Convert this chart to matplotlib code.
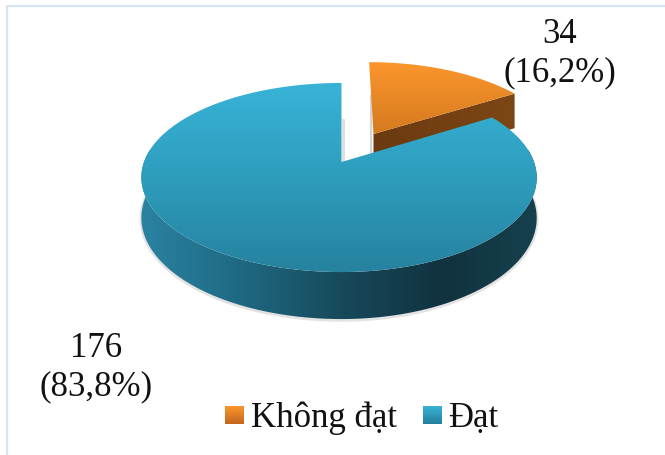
import numpy as np
import matplotlib
matplotlib.use("Agg")
import matplotlib.pyplot as plt
from matplotlib.colors import LinearSegmentedColormap
from matplotlib.patches import Polygon

labels = ["Không đạt", "Đạt"]
values = [34, 176]

plt.rcParams["font.family"] = ["Liberation Serif", "DejaVu Serif"]

# picture geometry of the tilted pie, in pixels
cx, cy = 341.5, 162
R, B, P, D = 195, 92, 0.164, 39.3
orange_shift = (0.175, 0.32)


def project(u, v, drop=0.0):
    k = 1 + P * v
    return cx + R * u / k - 2.5 * np.abs(u), cy - B * v / k + drop * D / k


def sector(start, end, shift=(0, 0), drop=0.0, n=200):
    # angles clockwise from the top
    t = np.radians(np.linspace(start, end, n))
    return project(np.sin(t) + shift[0], np.cos(t) + shift[1], drop)


def gradient(ax, poly, stops, box, vertical=True):
    ax.add_patch(poly)
    poly.set_facecolor("none")
    poly.set_edgecolor("none")
    cmap = LinearSegmentedColormap.from_list("g", stops)
    g = np.linspace(0, 1, 256)
    g = g.reshape(-1, 1) if vertical else g.reshape(1, -1)
    im = ax.imshow(g, cmap=cmap, vmin=0, vmax=1, extent=box, origin="upper",
                   aspect="auto", interpolation="bilinear", zorder=poly.get_zorder())
    im.set_clip_path(poly)


fig = plt.figure(figsize=(6.65, 4.55), dpi=100)
ax = fig.add_axes([0, 0, 1, 1])

split = 360 * values[0] / sum(values)
ox, oy = project(*orange_shift)
ox2, oy2 = project(*orange_shift, drop=1)
ex, ey = sector(0, split, orange_shift)
ex2, ey2 = sector(0, split, orange_shift, drop=1)

# small soft shadows beside the cut faces
ax.plot([ox - 2, ox - 2], [ey[0] + 34, oy + 19], color="#d4d4d4", lw=1.5, zorder=1)
ax.plot([cx + 1.5, cx + 1.5], [120, cy], color="#dedede", lw=2, zorder=1)

# orange cut face then top
face = np.column_stack([[ox, ex[-1], ex2[-1], ox2], [oy, ey[-1], ey2[-1], oy2]])
gradient(ax, Polygon(face, zorder=2), ["#6b3a10", "#7d4715"], (ox, ex[-1], 180, 90), vertical=False)
top = np.column_stack([np.r_[ox, ex], np.r_[oy, ey]])
gradient(ax, Polygon(top, zorder=3), ["#fb962c", "#d57a20"], (360, 525, oy, ey.min()))

# blue rim, front part of the slice
bx, by = sector(split, 360)
bx2, by2 = sector(split, 360, drop=1)
front = (by2 > cy) | (by > cy + 10)
rim = np.column_stack([np.r_[bx[front], bx2[front][::-1]], np.r_[by[front], by2[front][::-1]]])
ax.plot(bx2[front], by2[front] + 1, color="#e2e2e2", lw=2.5, zorder=3.5)
gradient(ax, Polygon(rim, zorder=4),
         ["#2b84a4", "#1f6a83", "#174a5b", "#11323f", "#17424f"],
         (135, 545, 330, 150), vertical=False)

# blue top
top = np.column_stack([np.r_[cx, bx], np.r_[cy, by]])
gradient(ax, Polygon(top, zorder=5), ["#38b3d7", "#2e9dbd", "#26829f"], (130, 545, by.max(), by.min()))

# value labels
pct = [f"{v}\n({100 * v / sum(values):.1f}%)".replace(".", ",") for v in values]
ax.text(560, 53.5, pct[0], ha="center", va="center", fontsize=25, linespacing=1.23, color="#111111", zorder=6)
ax.text(96.5, 367.5, pct[1], ha="center", va="center", fontsize=25, linespacing=1.23, color="#111111", zorder=6)

# legend
stops = [["#fb962c", "#c4651d"], ["#38b3d7", "#237f9b"]]
for name, x0, tx, st in zip(labels, [225, 423], [251, 448], stops):
    gradient(ax, Polygon([[x0, 406], [x0 + 19, 406], [x0 + 19, 424], [x0, 424]], zorder=6), st,
             (x0, x0 + 19, 424, 406))
    ax.text(tx, 427, name, ha="left", va="baseline", fontsize=25, color="#111111", zorder=6)

# frame of the picture, left and top only
ax.plot([7, 7, 665], [455, 6, 6], color="#d6e4f5", lw=1.6, zorder=0)

ax.set_xlim(0, 665)
ax.set_ylim(455, 0)
ax.axis("off")
fig.savefig("out.png", dpi=100)
